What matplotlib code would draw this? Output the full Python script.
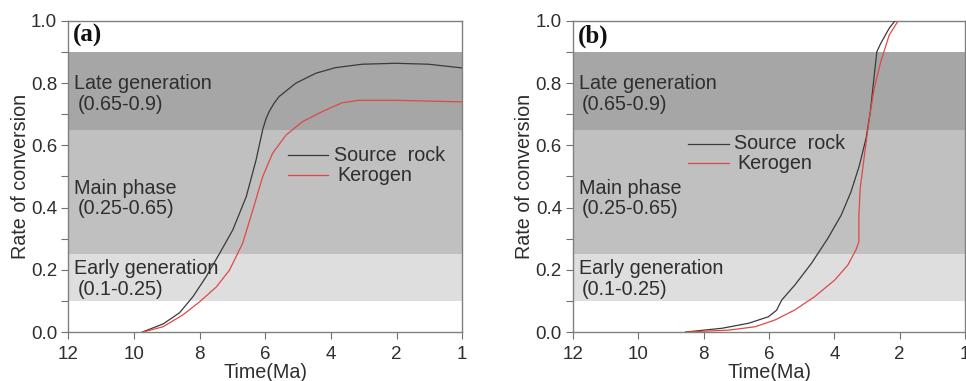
import matplotlib
matplotlib.use("Agg")
import matplotlib.pyplot as plt
from matplotlib.ticker import MultipleLocator

# ---- data ----
a_src_t = [9.74, 9.11, 8.61, 8.20, 7.80, 7.39, 6.99, 6.58, 6.28, 6.08, 5.98, 5.88, 5.73, 5.58, 5.07, 4.46, 3.86, 3.05, 2.04, 1.03, 0.0]
a_src_v = [0.0, 0.026, 0.062, 0.114, 0.178, 0.253, 0.328, 0.435, 0.553, 0.650, 0.685, 0.709, 0.736, 0.757, 0.800, 0.832, 0.850, 0.861, 0.864, 0.861, 0.849]
a_ker_t = [9.72, 9.11, 8.51, 8.00, 7.49, 7.09, 6.69, 6.38, 6.08, 5.78, 5.37, 4.87, 4.26, 3.66, 3.15, 2.04, 0.0]
a_ker_v = [0.0, 0.017, 0.055, 0.097, 0.145, 0.199, 0.285, 0.392, 0.499, 0.574, 0.633, 0.676, 0.709, 0.737, 0.745, 0.745, 0.740]

b_src_t = [8.55, 7.44, 6.63, 6.02, 5.77, 5.61, 5.21, 4.70, 4.20, 3.79, 3.49, 3.23, 3.03, 2.90, 2.80, 2.70, 2.58, 2.32, 2.15]
b_src_v = [0.0, 0.012, 0.028, 0.049, 0.070, 0.103, 0.151, 0.221, 0.301, 0.376, 0.451, 0.537, 0.623, 0.708, 0.805, 0.901, 0.928, 0.977, 1.0]
b_ker_t = [8.55, 7.23, 6.42, 5.81, 5.21, 4.60, 3.99, 3.59, 3.34, 3.25, 3.25, 3.21, 3.08, 2.93, 2.78, 2.58, 2.32, 2.05]
b_ker_v = [0.0, 0.006, 0.017, 0.039, 0.071, 0.114, 0.167, 0.215, 0.264, 0.290, 0.375, 0.461, 0.568, 0.686, 0.783, 0.869, 0.955, 1.0]

bands = [(0.10, 0.25), (0.25, 0.65), (0.65, 0.90)]
band_colors = ["#dedede", "#c0c0c0", "#a6a6a6"]
band_names = ["Early generation", "Main phase", "Late generation"]
band_ranges = ["(0.1-0.25)", "(0.25-0.65)", "(0.65-0.9)"]
band_name_y = [0.204, 0.461, 0.800]
band_range_y = [0.136, 0.397, 0.732]

xticks = [12, 10, 8, 6, 4, 2, 0]
xticklabels = ["12", "10", "8", "6", "4", "2", "1"]
yticks = [0.0, 0.2, 0.4, 0.6, 0.8, 1.0]

series_names = ["Source  rock", "Kerogen"]
series_colors = ["#3a3a3a", "#e04848"]

FONT = ["Liberation Sans", "DejaVu Sans"]
plt.rcParams["font.family"] = FONT
TXT = "#2e2e2e"
FS = 14.2

fig = plt.figure(figsize=(9.66, 3.81), dpi=100)
axA = fig.add_axes([0.0707, 0.1286, 0.4078, 0.8163])
axB = fig.add_axes([0.5932, 0.1286, 0.4058, 0.8163])

panels = [
    (axA, "(a)", (a_src_t, a_src_v), (a_ker_t, a_ker_v), (5.30, 4.08, 0.568, 0.504), (3.90, 3.80)),
    (axB, "(b)", (b_src_t, b_src_v), (b_ker_t, b_ker_v), (8.48, 7.22, 0.606, 0.543), (7.07, 6.98)),
]

for ax, tag, src, ker, leg, legx in panels:
    for (lo, hi), c in zip(bands, band_colors):
        ax.axhspan(lo, hi, color=c, lw=0, zorder=0)
    for nm, rg, yn, yr in zip(band_names, band_ranges, band_name_y, band_range_y):
        ax.text(11.82, yn, nm, fontsize=FS, color=TXT, va="center", ha="left")
        ax.text(11.72, yr, rg, fontsize=FS, color=TXT, va="center", ha="left")
    ax.plot(src[0], src[1], color=series_colors[0], lw=0.9, zorder=3)
    ax.plot(ker[0], ker[1], color=series_colors[1], lw=0.9, zorder=3)
    x0, x1, y0, y1 = leg
    ax.plot([x0, x1], [y0, y0], color=series_colors[0], lw=0.9)
    ax.plot([x0, x1], [y1, y1], color=series_colors[1], lw=0.9)
    ax.text(legx[0], y0, series_names[0], fontsize=FS, va="center", ha="left", color=TXT)
    ax.text(legx[1], y1, series_names[1], fontsize=FS, va="center", ha="left", color=TXT)
    ax.text(11.86, 0.952, tag, fontsize=18, fontweight="bold", family="Liberation Serif",
            va="center", ha="left", color="#111111")

    ax.set_xlim(12, 0)
    ax.set_ylim(0, 1.0)
    ax.set_xticks(xticks)
    ax.set_xticklabels(xticklabels)
    ax.set_yticks(yticks)
    ax.set_yticklabels([f"{v:.1f}" for v in yticks])
    ax.yaxis.set_minor_locator(MultipleLocator(0.1))
    ax.tick_params(axis="both", which="both", direction="out", color="#707070",
                   labelsize=13.5, labelcolor=TXT, width=0.8)
    ax.tick_params(axis="both", which="major", length=5)
    ax.tick_params(axis="y", which="minor", length=5)
    ax.tick_params(axis="x", pad=5)
    ax.tick_params(axis="y", pad=3)
    for s in ax.spines.values():
        s.set_color("#808080")
        s.set_linewidth(1.0)
    ax.set_xlabel("Time(Ma)", fontsize=FS, labelpad=0, color=TXT)
    ax.set_ylabel("Rate of conversion", fontsize=FS, labelpad=1, color=TXT)

fig.savefig("out.png", dpi=100)
